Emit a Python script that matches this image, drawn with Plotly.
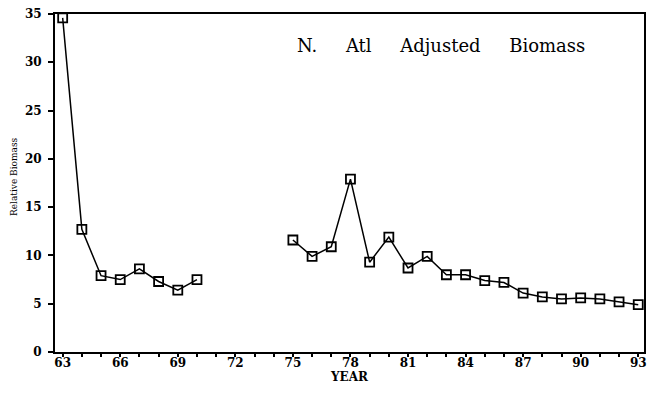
import plotly.graph_objects as go

years = [1963, 1964, 1965, 1966, 1967, 1968, 1969, 1970, 1971, 1972, 1973, 1974,
         1975, 1976, 1977, 1978, 1979, 1980, 1981, 1982, 1983, 1984, 1985, 1986,
         1987, 1988, 1989, 1990, 1991, 1992, 1993]
biomass = [34.6, 12.7, 7.9, 7.5, 8.6, 7.3, 6.4, 7.5, None, None, None, None,
           11.6, 9.9, 10.9, 17.9, 9.3, 11.9, 8.7, 9.9, 8.0, 8.0, 7.4, 7.2,
           6.1, 5.7, 5.5, 5.6, 5.5, 5.2, 4.9]
x_tick_vals = [1963, 1966, 1969, 1972, 1975, 1978, 1981, 1984, 1987, 1990, 1993]
x_tick_text = ["63", "66", "69", "72", "75", "78", "81", "84", "87", "90", "93"]
y_tick_vals = [0, 5, 10, 15, 20, 25, 30, 35]

serif = "DejaVu Serif, Liberation Serif, serif"

fig = go.Figure()
fig.add_trace(go.Scatter(
    x=years, y=biomass, mode="lines+markers",
    line=dict(color="black", width=1.5),
    marker=dict(symbol="square-open", size=9, color="black", line=dict(width=1.8)),
    connectgaps=False, showlegend=False,
))

sp = "&nbsp;&nbsp;&nbsp;&nbsp;&nbsp;"
fig.update_layout(
    width=647, height=393,
    margin=dict(l=55, r=3, t=14, b=41),
    paper_bgcolor="white", plot_bgcolor="white",
    font=dict(family=serif, color="black"),
    annotations=[
        dict(x=0.656, y=0.908, xref="paper", yref="paper", xanchor="center", yanchor="middle",
             text="N." + sp + "Atl" + sp + "Adjusted" + sp + "Biomass", showarrow=False,
             font=dict(family=serif, size=18, color="black")),
        dict(x=-0.07, y=0.52, xref="paper", yref="paper", xanchor="center", yanchor="middle",
             text="Relative Biomass", textangle=-90, showarrow=False,
             font=dict(family=serif, size=9, color="black")),
    ],
)
fig.update_xaxes(
    range=[1962.6, 1993.3], tickvals=x_tick_vals, ticktext=x_tick_text,
    ticks="outside", ticklen=3, tickwidth=1.5, tickcolor="black",
    ticklabelstandoff=-4, automargin=False, ticklabeloverflow="allow",
    minor=dict(dtick=1, ticks="outside", ticklen=3, tickcolor="black"),
    showgrid=False, zeroline=False,
    showline=True, linecolor="black", linewidth=2, mirror=True,
    tickfont=dict(family=serif, size=12, color="black", weight="bold"),
    title=dict(text="YEAR", font=dict(family=serif, size=12, weight="bold"), standoff=0),
)
fig.update_yaxes(
    range=[0, 35], tickvals=y_tick_vals,
    ticks="outside", ticklen=5, tickwidth=1.5, tickcolor="black",
    ticklabelstandoff=4, automargin=False, ticklabeloverflow="allow",
    showgrid=False, zeroline=False,
    showline=True, linecolor="black", linewidth=2, mirror=True,
    tickfont=dict(family=serif, size=12, color="black", weight="bold"),
)

fig.write_html("out.html", config={"displayModeBar": False},
               post_script="document.body.style.margin='0';")
